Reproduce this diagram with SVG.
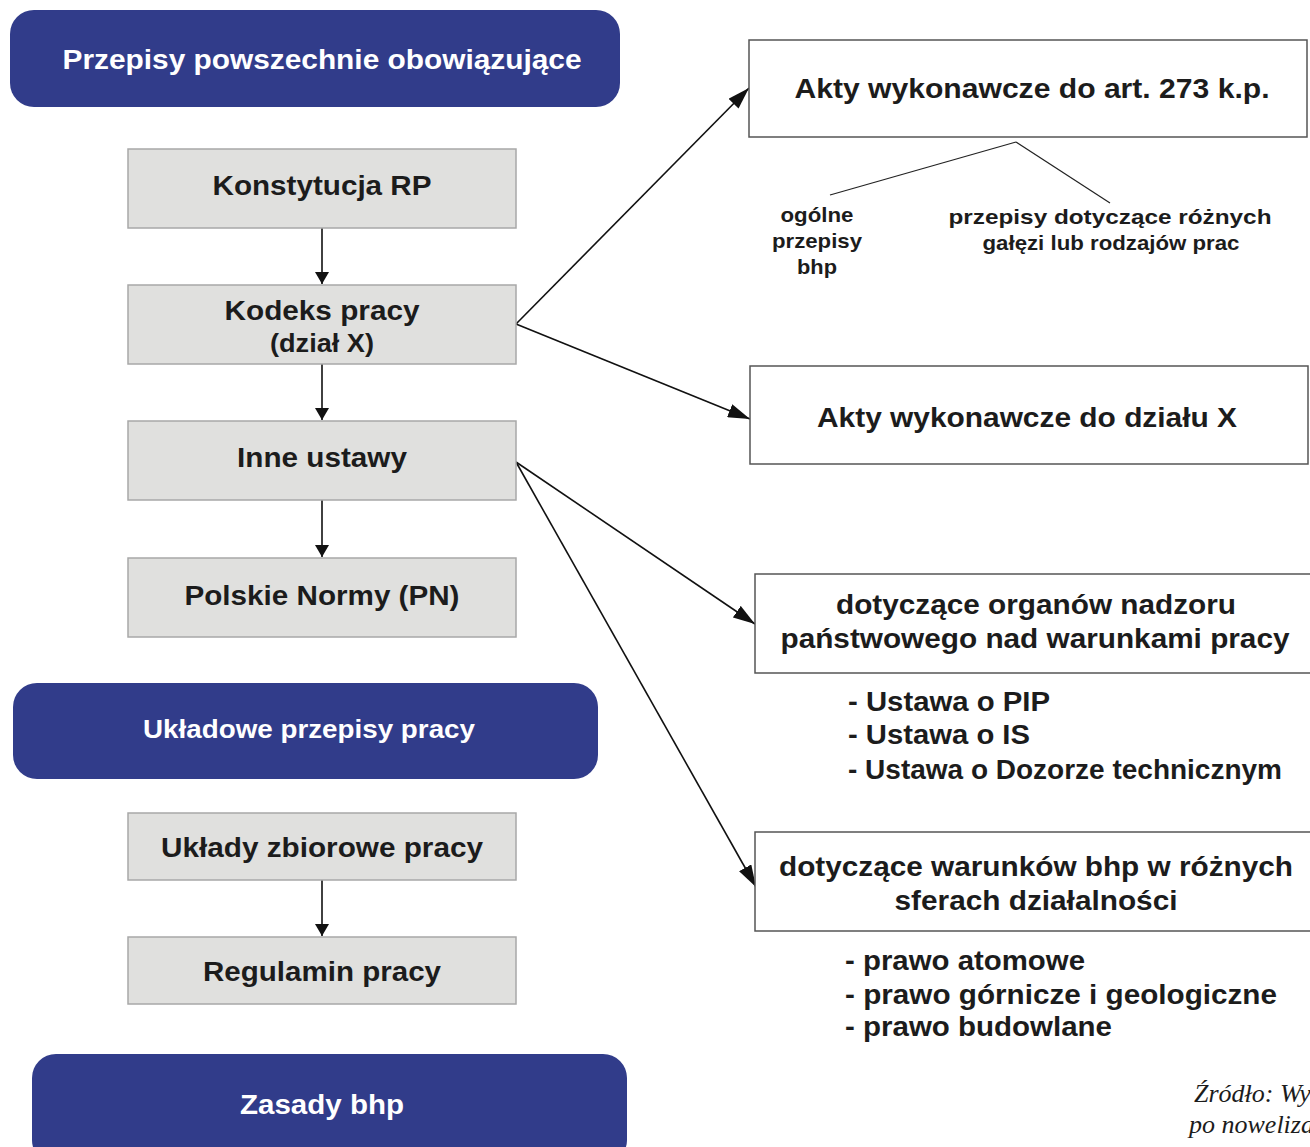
<svg xmlns="http://www.w3.org/2000/svg" width="1310" height="1147" viewBox="0 0 1310 1147">
<defs>
<style>
.blue{fill:#313c8a;}
.gray{fill:#e0e0de;stroke:#a8a8a8;stroke-width:1.5;}
.wbox{fill:#fff;stroke:#555;stroke-width:1.5;}
.t{font-family:"Liberation Sans",Arial,sans-serif;font-weight:bold;fill:#1c1c1c;text-anchor:middle;}
.tw{font-family:"Liberation Sans",Arial,sans-serif;font-weight:bold;fill:#fff;text-anchor:middle;}
.tl{font-family:"Liberation Sans",Arial,sans-serif;font-weight:bold;fill:#1c1c1c;}
.src{font-family:"Liberation Serif","Times New Roman",serif;font-style:italic;fill:#1c1c1c;font-size:26px;}
.conn{stroke:#111;stroke-width:1.6;fill:none;}
.thin{stroke:#222;stroke-width:1.2;fill:none;}
</style>
<marker id="big" viewBox="0 0 22 14" refX="22" refY="7" markerWidth="22" markerHeight="14" orient="auto" markerUnits="userSpaceOnUse">
<path d="M0,0 L22,7 L0,14 z" fill="#111"/>
</marker>
<marker id="small" viewBox="0 0 12 14" refX="12" refY="7" markerWidth="12" markerHeight="14" orient="auto" markerUnits="userSpaceOnUse">
<path d="M0,0 L12,7 L0,14 z" fill="#111"/>
</marker>
</defs>

<g id="connectors">
<line class="conn" x1="322" y1="228" x2="322" y2="284" marker-end="url(#small)"/>
<line class="conn" x1="322" y1="364" x2="322" y2="420" marker-end="url(#small)"/>
<line class="conn" x1="322" y1="500" x2="322" y2="557" marker-end="url(#small)"/>
<line class="conn" x1="322" y1="880" x2="322" y2="936" marker-end="url(#small)"/>
<line class="conn" x1="516" y1="324" x2="749" y2="88" marker-end="url(#big)"/>
<line class="conn" x1="516" y1="324" x2="750" y2="419" marker-end="url(#big)"/>
<line class="conn" x1="516" y1="462" x2="755" y2="624" marker-end="url(#big)"/>
<line class="conn" x1="516" y1="462" x2="756" y2="887" marker-end="url(#big)"/>
<line class="thin" x1="1016" y1="142" x2="830" y2="195"/>
<line class="thin" x1="1016" y1="142" x2="1110" y2="203"/>
</g>

<g id="przepisy-powszechne">
<rect class="blue" x="10" y="10" width="610" height="97" rx="24"/>
<text class="tw" x="322" y="69" font-size="27" textLength="519" lengthAdjust="spacingAndGlyphs">Przepisy powszechnie obowiązujące</text>
</g>
<g id="konstytucja">
<rect class="gray" x="128" y="149" width="388" height="79"/>
<text class="t" x="322" y="195" font-size="27" textLength="219" lengthAdjust="spacingAndGlyphs">Konstytucja RP</text>
</g>
<g id="kodeks">
<rect class="gray" x="128" y="285" width="388" height="79"/>
<text class="t" x="322" y="320" font-size="27" textLength="195" lengthAdjust="spacingAndGlyphs">Kodeks pracy</text>
<text class="t" x="322" y="352" font-size="25" textLength="104" lengthAdjust="spacingAndGlyphs">(dział X)</text>
</g>
<g id="inne-ustawy">
<rect class="gray" x="128" y="421" width="388" height="79"/>
<text class="t" x="322" y="467" font-size="27" textLength="170" lengthAdjust="spacingAndGlyphs">Inne ustawy</text>
</g>
<g id="polskie-normy">
<rect class="gray" x="128" y="558" width="388" height="79"/>
<text class="t" x="322" y="605" font-size="27" textLength="275" lengthAdjust="spacingAndGlyphs">Polskie Normy (PN)</text>
</g>
<g id="ukladowe">
<rect class="blue" x="13" y="683" width="585" height="96" rx="24"/>
<text class="tw" x="309" y="738" font-size="26" textLength="332" lengthAdjust="spacingAndGlyphs">Układowe przepisy pracy</text>
</g>
<g id="uklady-zbiorowe">
<rect class="gray" x="128" y="813" width="388" height="67"/>
<text class="t" x="322" y="857" font-size="27" textLength="322" lengthAdjust="spacingAndGlyphs">Układy zbiorowe pracy</text>
</g>
<g id="regulamin">
<rect class="gray" x="128" y="937" width="388" height="67"/>
<text class="t" x="322" y="981" font-size="27" textLength="238" lengthAdjust="spacingAndGlyphs">Regulamin pracy</text>
</g>
<g id="zasady">
<rect class="blue" x="32" y="1054" width="595" height="110" rx="24"/>
<text class="tw" x="322" y="1114" font-size="27" textLength="164" lengthAdjust="spacingAndGlyphs">Zasady bhp</text>
</g>

<g id="akty-273">
<rect class="wbox" x="749" y="40" width="558" height="97"/>
<text class="t" x="1032" y="98" font-size="28" textLength="475" lengthAdjust="spacingAndGlyphs">Akty wykonawcze do art. 273 k.p.</text>
</g>
<g id="ogolne">
<text class="t" x="817" y="222" font-size="21" textLength="73" lengthAdjust="spacingAndGlyphs">ogólne</text>
<text class="t" x="817" y="248" font-size="21" textLength="90" lengthAdjust="spacingAndGlyphs">przepisy</text>
<text class="t" x="817" y="274" font-size="21" textLength="40" lengthAdjust="spacingAndGlyphs">bhp</text>
</g>
<g id="galezi">
<text class="t" x="1110" y="224" font-size="21" textLength="323" lengthAdjust="spacingAndGlyphs">przepisy dotyczące różnych</text>
<text class="t" x="1111" y="250" font-size="21" textLength="257" lengthAdjust="spacingAndGlyphs">gałęzi lub rodzajów prac</text>
</g>
<g id="akty-dzial-x">
<rect class="wbox" x="750" y="366" width="558" height="98"/>
<text class="t" x="1027" y="427" font-size="28" textLength="420" lengthAdjust="spacingAndGlyphs">Akty wykonawcze do działu X</text>
</g>
<g id="organy-nadzoru">
<rect class="wbox" x="755" y="574" width="560" height="99"/>
<text class="t" x="1036" y="614" font-size="28" textLength="400" lengthAdjust="spacingAndGlyphs">dotyczące organów nadzoru</text>
<text class="t" x="1035" y="648" font-size="28" textLength="509" lengthAdjust="spacingAndGlyphs">państwowego nad warunkami pracy</text>
</g>
<g id="ustawy-lista">
<text class="tl" x="848" y="711" font-size="27" textLength="202" lengthAdjust="spacingAndGlyphs">- Ustawa o PIP</text>
<text class="tl" x="848" y="744" font-size="27" textLength="182" lengthAdjust="spacingAndGlyphs">- Ustawa o IS</text>
<text class="tl" x="848" y="779" font-size="27" textLength="434" lengthAdjust="spacingAndGlyphs">- Ustawa o Dozorze technicznym</text>
</g>
<g id="warunki-bhp">
<rect class="wbox" x="755" y="832" width="560" height="99"/>
<text class="t" x="1036" y="876" font-size="28" textLength="514" lengthAdjust="spacingAndGlyphs">dotyczące warunków bhp w różnych</text>
<text class="t" x="1036" y="910" font-size="28" textLength="283" lengthAdjust="spacingAndGlyphs">sferach działalności</text>
</g>
<g id="prawo-lista">
<text class="tl" x="845" y="970" font-size="27" textLength="240" lengthAdjust="spacingAndGlyphs">- prawo atomowe</text>
<text class="tl" x="845" y="1004" font-size="27" textLength="432" lengthAdjust="spacingAndGlyphs">- prawo górnicze i geologiczne</text>
<text class="tl" x="845" y="1036" font-size="27" textLength="267" lengthAdjust="spacingAndGlyphs">- prawo budowlane</text>
</g>
<g id="zrodlo">
<text class="src" x="1194" y="1102">Źródło: Wy</text>
<text class="src" x="1189" y="1133">po noweliza</text>
</g>
</svg>
